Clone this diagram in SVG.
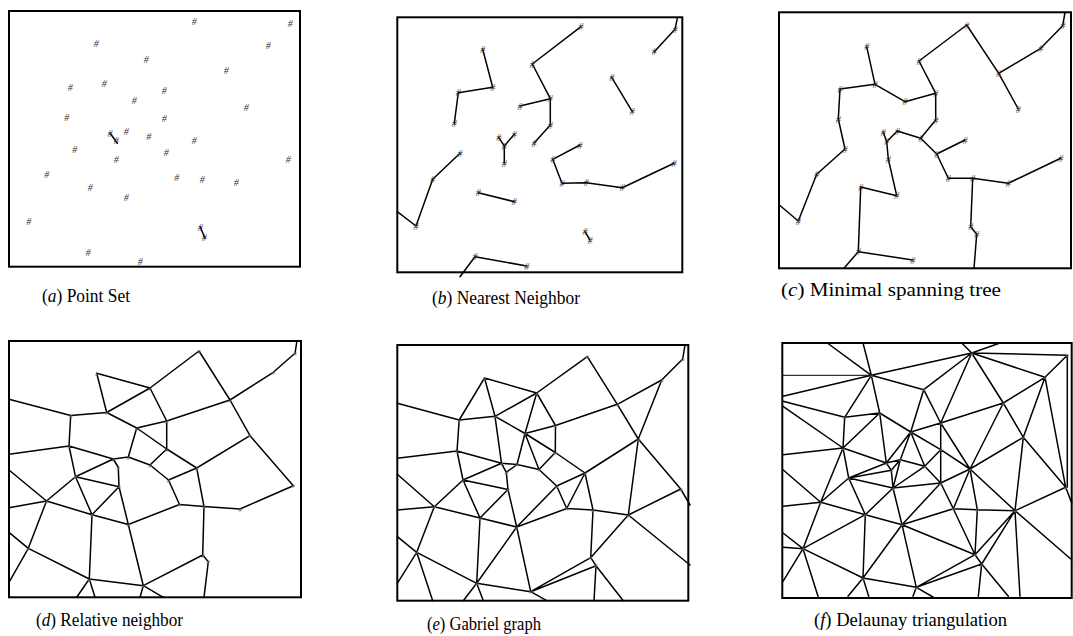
<svg xmlns="http://www.w3.org/2000/svg" width="1073" height="636" viewBox="0 0 1073 636">
<style>
.fr{fill:none;stroke:#000;stroke-width:2}
.ed{fill:none;stroke:#000;stroke-width:1.5;stroke-linecap:round;stroke-linejoin:round}
.thin{fill:none;stroke:#000;stroke-width:1}
.pt{font-family:"Liberation Serif",serif;font-style:italic;font-size:10px;fill:#333;text-anchor:middle}
.pt2{font-family:"Liberation Serif",serif;font-style:italic;font-size:7px;fill:#777;text-anchor:middle}
.lb{font-family:"Liberation Serif","Times New Roman",serif;font-size:19px;fill:#000}
.lb tspan{font-style:italic}
</style>
<rect width="1073" height="636" fill="#fff"/>

<!-- (a) Point set -->
<g id="panel-a">
<rect class="fr" x="9" y="11" width="291" height="255.7"/>
<g id="a-edges">
<path class="ed" d="M110,133L117.3,143.3M200.3,227L205,238.3"/>
</g>
<g id="a-nodes" class="pt">
<text id="a1" x="194.3" y="24.5">#</text><text id="a2" x="290.3" y="26.8">#</text><text id="a3" x="96.3" y="46.8">#</text>
<text id="a4" x="268.3" y="48.5">#</text><text id="a5" x="146.3" y="62.8">#</text><text id="a6" x="226.3" y="74.2">#</text>
<text id="a7" x="70.3" y="90.8">#</text><text id="a8" x="104.3" y="86.8">#</text><text id="a9" x="164.3" y="94.2">#</text>
<text id="a10" x="134.3" y="104.2">#</text><text id="a11" x="246.3" y="110.5">#</text><text id="a12" x="66.7" y="120.8">#</text>
<text id="a13" x="164.3" y="122.2">#</text><text id="a14" x="110" y="136.5">#</text><text id="a15" x="116.3" y="144.2">#</text>
<text id="a16" x="126.3" y="134.5">#</text><text id="a17" x="148.7" y="140.2">#</text><text id="a18" x="194.3" y="144.2">#</text>
<text id="a19" x="74.7" y="152.5">#</text><text id="a20" x="166.3" y="156.2">#</text><text id="a21" x="116.3" y="162.8">#</text>
<text id="a22" x="288.3" y="162.5">#</text><text id="a23" x="46.7" y="178.2">#</text><text id="a24" x="176.7" y="180.5">#</text>
<text id="a25" x="202.3" y="182.5">#</text><text id="a26" x="236.3" y="186.2">#</text><text id="a27" x="90.3" y="190.5">#</text>
<text id="a28" x="126.3" y="200.5">#</text><text id="a29" x="28.7" y="224.5">#</text><text id="a30" x="200.3" y="230.5">#</text>
<text id="a31" x="204.3" y="240.8">#</text><text id="a32" x="88.3" y="256.2">#</text><text id="a33" x="140.3" y="264.5">#</text>
</g>
<text class="lb" x="42" y="302" textLength="88" lengthAdjust="spacingAndGlyphs">(<tspan>a</tspan>) Point Set</text>
</g>

<!-- (b) Nearest neighbor -->
<g id="panel-b">
<rect class="fr" x="397.3" y="17.3" width="285" height="255"/>
<g id="b-edges">
<path class="ed" d="M677.3,18.3L675,29.3L654.3,51.7
M581,26.7L532.3,64L550.3,98.7L550.3,125L534,143.3
M520,106L550.3,98.7
M611.7,77.3L632.3,111.7
M482.7,49.3L492.7,87.3L458.3,92.7L454.3,123.3
M498.7,137.3L504.3,146L514.3,134.3
M504.3,146L504.3,163.3
M460,153.3L432.7,179.3L416,226L397.3,211.7
M580,145L552.7,159.3L562,183.3L586.3,182.7L622.3,187.7L674,163.3
M478.3,192.7L514.3,201.7
M585,231.7L590,240
M526.7,266L475,256.7L460,276.7"/>
</g>
<g id="b-nodes" class="pt">
<text id="b1" x="581" y="30.2">#</text><text id="b2" x="675" y="32.8">#</text><text id="b3" x="482.7" y="52.8">#</text>
<text id="b4" x="654.3" y="55.2">#</text><text id="b5" x="532.3" y="67.5">#</text><text id="b6" x="611.7" y="80.8">#</text>
<text id="b7" x="492.7" y="90.8">#</text><text id="b8" x="458.3" y="96.2">#</text><text id="b9" x="550.3" y="102.2">#</text>
<text id="b10" x="520" y="109.5">#</text><text id="b11" x="632.3" y="115.2">#</text><text id="b12" x="454.3" y="126.8">#</text>
<text id="b13" x="550.3" y="128.5">#</text><text id="b14" x="498.7" y="140.8">#</text><text id="b15" x="504.3" y="149.5">#</text>
<text id="b16" x="514.3" y="137.8">#</text><text id="b17" x="534" y="146.8">#</text><text id="b18" x="580" y="148.5">#</text>
<text id="b19" x="460" y="156.8">#</text><text id="b20" x="504.3" y="166.8">#</text><text id="b21" x="552.7" y="162.8">#</text>
<text id="b22" x="674" y="166.8">#</text><text id="b23" x="432.7" y="182.8">#</text><text id="b24" x="562" y="186.8">#</text>
<text id="b25" x="586.3" y="186.2">#</text><text id="b26" x="622.3" y="191.2">#</text><text id="b27" x="478.3" y="196.2">#</text>
<text id="b28" x="514.3" y="205.2">#</text><text id="b29" x="416" y="229.5">#</text><text id="b30" x="585" y="235.2">#</text>
<text id="b31" x="590" y="243.5">#</text><text id="b32" x="475" y="260.2">#</text><text id="b33" x="526.7" y="269.5">#</text>
</g>
<text class="lb" x="432" y="304" textLength="148" lengthAdjust="spacingAndGlyphs">(<tspan>b</tspan>) Nearest Neighbor</text>
</g>

<!-- (c) Minimal spanning tree -->
<g id="panel-c">
<rect class="fr" x="779" y="12.3" width="292" height="256"/>
<g id="c-edges">
<path class="ed" d="M1065,12.5L1062.7,25.7L1040.7,48.3L998.7,73.3L1018.3,109
M966.7,25L998.7,73.3
M966.7,25L919,61L935.7,93.3L905,101.7L875,84.3L866.7,46.7
M875,84.3L840,89L838.3,119L845,149L816.7,174.3L798.3,221L779.3,205
M935.7,93.3L935.7,120L920.7,138.3L897.3,131L886.7,141.7L883.3,132.3
M886.7,141.7L888.3,159L896.7,195.7L860.7,187L858.3,251.7L912.7,260
M858.3,251.7L844,268.3
M920.7,138.3L936.7,154L965,140
M936.7,154L948.3,178.3L972.7,178.3L1008.3,183.3L1060.7,158.3
M972.7,178.3L970.7,226.7L976.7,234.3L974,268.3"/>
</g>
<g id="c-nodes" class="pt">
<text id="c1" x="966.7" y="28.5">#</text><text id="c2" x="1062.7" y="29.2">#</text><text id="c3" x="866.7" y="50.2">#</text>
<text id="c4" x="1040.7" y="51.8">#</text><text id="c5" x="919" y="64.5">#</text><text id="c6" x="998.7" y="76.8">#</text>
<text id="c7" x="875" y="87.8">#</text><text id="c8" x="840" y="92.5">#</text><text id="c9" x="935.7" y="96.8">#</text>
<text id="c10" x="905" y="105.2">#</text><text id="c11" x="1018.3" y="112.5">#</text><text id="c12" x="838.3" y="122.5">#</text>
<text id="c13" x="935.7" y="123.5">#</text><text id="c14" x="883.3" y="135.8">#</text><text id="c15" x="886.7" y="145.2">#</text>
<text id="c16" x="897.3" y="134.5">#</text><text id="c17" x="920.7" y="141.8">#</text><text id="c18" x="965" y="143.5">#</text>
<text id="c19" x="845" y="152.5">#</text><text id="c20" x="888.3" y="162.5">#</text><text id="c21" x="936.7" y="157.5">#</text>
<text id="c22" x="1060.7" y="161.8">#</text><text id="c23" x="816.7" y="177.8">#</text><text id="c24" x="948.3" y="181.8">#</text>
<text id="c25" x="972.7" y="181.8">#</text><text id="c26" x="1008.3" y="186.8">#</text><text id="c27" x="860.7" y="190.5">#</text>
<text id="c28" x="896.7" y="199.2">#</text><text id="c29" x="798.3" y="224.5">#</text><text id="c30" x="970.7" y="230.2">#</text>
<text id="c31" x="976.7" y="237.8">#</text><text id="c32" x="858.3" y="255.2">#</text><text id="c33" x="912.7" y="263.5">#</text>
</g>
<text class="lb" x="781" y="296" textLength="220" lengthAdjust="spacingAndGlyphs">(<tspan>c</tspan>) Minimal spanning tree</text>
</g>

<!-- (d) Relative neighbor -->
<g id="panel-d">
<rect class="fr" x="9" y="341" width="292" height="256.3"/>
<g id="d-edges">
<path class="ed" d="M9,399.3L70.7,415.5L106.7,412.5L96.7,373.3L150,388L106.7,412.5
M150,388L199,351L230,400L273.3,372.3L295,353.3L296.7,342.3
M150,388L166.7,421L166.7,449
M106.7,412.5L136.7,428L166.7,449L150,465L168.5,480L179.5,504.5L204,506.5L240,509L293.3,485.7L250,435.7L230,400
M136.7,428L166.7,421L230,400
M166.7,449L196.7,468L250,435.7
M196.7,468L168.5,480
M196.7,468L204,506.5L202.7,555L208.3,561.7L204,597.3
M136.7,428L128.3,457L150,465
M9,454.3L69,446L70.7,415.5
M69,446L113.3,459L128.3,457
M113.3,459L118.3,467.5L119,486.7
M69,446L75.5,476.7L113.3,459
M75.5,476.7L119,486.7L92,514.7L75.5,476.7L46.5,501L9,470
M46.5,501L9,507.7
M46.5,501L92,514.7L128.3,524.5L119,486.7
M46.5,501L28.3,548.3L9,532.3
M28.3,548.3L9,582.3
M28.3,548.3L89.3,579L143.3,585.7L202.7,555
M128.3,524.5L179.5,504.5
M92,514.7L89.3,579L76.7,597.3
M89.3,579L95,597.3
M128.3,524.5L143.3,585.7L140,597.3
M143.3,585.7L163.3,597.3"/>
</g>
<g id="d-nodes" class="pt2">
<text id="d1" x="199" y="353.5">#</text><text id="d2" x="295" y="355.8">#</text><text id="d3" x="273.3" y="374.8">#</text>
<text id="d4" x="96.7" y="375.8">#</text><text id="d5" x="150" y="390.5">#</text><text id="d6" x="230" y="402.5">#</text>
<text id="d7" x="106.7" y="415">#</text><text id="d8" x="70.7" y="418">#</text><text id="d9" x="166.7" y="423.5">#</text>
<text id="d10" x="136.7" y="430.5">#</text><text id="d11" x="250" y="438.2">#</text><text id="d12" x="69" y="448.5">#</text>
<text id="d13" x="166.7" y="451.5">#</text><text id="d14" x="113.3" y="461.5">#</text><text id="d15" x="118.3" y="470">#</text>
<text id="d16" x="128.3" y="459.5">#</text><text id="d17" x="150" y="467.5">#</text><text id="d18" x="196.7" y="470.5">#</text>
<text id="d19" x="75.5" y="479.2">#</text><text id="d20" x="119" y="489.2">#</text><text id="d21" x="168.5" y="482.5">#</text>
<text id="d22" x="293.3" y="488.2">#</text><text id="d23" x="46.5" y="503.5">#</text><text id="d24" x="179.5" y="507">#</text>
<text id="d25" x="204" y="509">#</text><text id="d26" x="240" y="511.5">#</text><text id="d27" x="92" y="517.2">#</text>
<text id="d28" x="128.3" y="527">#</text><text id="d29" x="28.3" y="550.8">#</text><text id="d30" x="202.7" y="557.5">#</text>
<text id="d31" x="208.3" y="564.2">#</text><text id="d32" x="89.3" y="581.5">#</text><text id="d33" x="143.3" y="588.2">#</text>
</g>
<text class="lb" x="36" y="626" textLength="147" lengthAdjust="spacingAndGlyphs">(<tspan>d</tspan>) Relative neighbor</text>
</g>

<!-- (e) Gabriel graph -->
<g id="panel-e">
<rect class="fr" x="397.3" y="345" width="291" height="255.7"/>
<g id="e-edges">
<path class="ed" d="M397.3,403.3L459.2,420L484.5,378L495,416.3L459.2,420
M484.5,378L536.7,393L587.3,356.7L617.3,404.3L661.7,380L682.7,359L685,345
M495,416.3L536.7,393L525,433.5L495,416.3L501.5,463.3
M536.7,393L555.5,425.5L525,433.5
M555.5,425.5L617.3,404.3L638.3,439L661.7,380
M638.3,439L680.7,489L690,505
M555.5,425.5L555.3,452.5L539,469.5L525,433.5L517,464.5
M525,433.5L555.3,452.5L585,473L638.3,439
M459.2,420L457,451L397.3,458.3
M457,451L501.5,463.3L517,464.5L539,469.5L556.7,486L585,473
M457,451L463,480L501.5,463.3L506.3,472.3L517,464.5
M506.3,472.3L508,489.5L463,480
M585,473L566.7,508.5L556.7,486
M585,473L593,510L566.7,508.5
M593,510L628.3,515L680.7,489
M628.3,515L638.3,439
M628.3,515L690,565
M628.3,515L590.7,557.7L593,510
M590.7,557.7L596,565.7L594,600.7
M596,565.7L623.3,600.7
M590.7,557.7L530.7,591.7L596,565.7
M556.7,486L516.7,527L508,489.5L480,518L463,480L434.3,506.7L480,518L516.7,527L566.7,508.5
M516.7,527L476.7,583.3L480,518
M516.7,527L530.7,591.7L476.7,583.3L416.7,552.3L434.3,506.7
M434.3,506.7L397.3,510
M434.3,506.7L397.3,474.3
M416.7,552.3L397.3,536.7
M416.7,552.3L397.3,583.3
M416.7,552.3L432.7,600.7
M476.7,583.3L463.3,600.7
M476.7,583.3L483.3,600.7
M530.7,591.7L546.7,600.7"/>
</g>
<g id="e-nodes" class="pt2">
<text id="e1" x="587.3" y="359.2">#</text><text id="e2" x="682.7" y="361.5">#</text><text id="e3" x="484.5" y="380.5">#</text>
<text id="e4" x="661.7" y="382.5">#</text><text id="e5" x="536.7" y="395.5">#</text><text id="e6" x="617.3" y="406.8">#</text>
<text id="e7" x="495" y="418.8">#</text><text id="e8" x="459.2" y="422.5">#</text><text id="e9" x="555.5" y="428">#</text>
<text id="e10" x="525" y="436">#</text><text id="e11" x="638.3" y="441.5">#</text><text id="e12" x="457" y="453.5">#</text>
<text id="e13" x="555.3" y="455">#</text><text id="e14" x="501.5" y="465.8">#</text><text id="e15" x="506.3" y="474.8">#</text>
<text id="e16" x="517" y="467">#</text><text id="e17" x="539" y="472">#</text><text id="e18" x="585" y="475.5">#</text>
<text id="e19" x="463" y="482.5">#</text><text id="e20" x="508" y="492">#</text><text id="e21" x="556.7" y="488.5">#</text>
<text id="e22" x="680.7" y="491.5">#</text><text id="e23" x="434.3" y="509.2">#</text><text id="e24" x="566.7" y="511">#</text>
<text id="e25" x="593" y="512.5">#</text><text id="e26" x="628.3" y="517.5">#</text><text id="e27" x="480" y="520.5">#</text>
<text id="e28" x="516.7" y="529.5">#</text><text id="e29" x="416.7" y="554.8">#</text><text id="e30" x="590.7" y="560.2">#</text>
<text id="e31" x="596" y="568.2">#</text><text id="e32" x="476.7" y="585.8">#</text><text id="e33" x="530.7" y="594.2">#</text>
</g>
<text class="lb" x="427" y="630" textLength="114" lengthAdjust="spacingAndGlyphs">(<tspan>e</tspan>) Gabriel graph</text>
</g>

<!-- (f) Delaunay triangulation -->
<g id="panel-f">
<rect class="fr" x="782.3" y="343" width="289.4" height="255"/>
<g id="f-edges">
<path class="thin" d="M782.3,375.3L871.3,375.3"/>
<path class="ed" d="M827.3,343L871.3,375.3L863,343
M961.7,343L971.7,353L1000,343
M783,396.3L871.3,375.3L971.7,353L1067.3,355.3L1067.3,487.3
M871.3,375.3L844.7,417.3L879.7,413L871.3,375.3L923.7,389.7L971.7,353
M923.7,389.7L910.7,432L879.7,413
M923.7,389.7L940.7,423L971.7,353L1003.3,403L1045,377.3L971.7,353
M1067.3,355.3L1045,377.3L1065.7,487.3
M783,401.3L844.7,417.3L843,448L879.7,413L886.3,463L910.7,432L940.7,423
M783,406.3L843,448L783,454.7
M843,448L886.3,463L900.3,459.7L924.7,466.3L910.7,432L900.3,459.7
M886.3,463L891.3,470.3L900.3,459.7
M843,448L848.7,478L886.3,463
M848.7,478L891.3,470.3L893,488L848.7,478
M900.3,459.7L893,488L924.7,466.3
M843,448L820.7,502.3L848.7,478L865.3,514.7L893,488L902,524.7L865.3,514.7L820.7,502.3
M910.7,432L940.7,449.7L924.7,466.3L940.7,483L893,488
M940.7,423L940.7,449.7L940.7,483
M940.7,423L1003.3,403L1023.3,437.3L1045,377.3
M1003.3,403L970,469L940.7,423
M940.7,449.7L970,469L1023.3,437.3L1065.7,487.3
M1023.3,437.3L1015,510.7L1065.7,487.3L1071.7,503
M970,469L940.7,483L953.3,508.7L970,469L977.3,509.7L953.3,508.7
M970,469L1015,510.7L977.3,509.7L975,554.7L953.3,508.7
M940.7,483L902,524.7L953.3,508.7
M1015,510.7L975,554.7L981.7,564L1015,510.7
M1015,510.7L1020,596.3
M1015,510.7L1071.7,559.7
M981.7,564L978.3,596.3
M981.7,564L1008.3,596.3
M902,524.7L975,554.7L916.3,587.3L981.7,564
M916.3,587.3L902,524.7L863,578L865.3,514.7L803,548.7L820.7,502.3
M803,548.7L863,578L916.3,587.3
M783,469.7L820.7,502.3L783,506.3
M803,548.7L783,533
M803,548.7L783,547.3
M803,548.7L783,581.3
M803,548.7L818,596.3
M863,578L848,596.3
M863,578L868.7,596.3
M916.3,587.3L913,596.3
M916.3,587.3L933,597"/>
</g>
<g id="f-nodes" class="pt2">
<text id="f1" x="971.7" y="355.5">#</text><text id="f2" x="1067.3" y="357.8">#</text><text id="f3" x="871.3" y="377.8">#</text>
<text id="f4" x="1045" y="379.8">#</text><text id="f5" x="923.7" y="392.2">#</text><text id="f6" x="1003.3" y="405.5">#</text>
<text id="f7" x="879.7" y="415.5">#</text><text id="f8" x="844.7" y="419.8">#</text><text id="f9" x="940.7" y="425.5">#</text>
<text id="f10" x="910.7" y="434.5">#</text><text id="f11" x="1023.3" y="439.8">#</text><text id="f12" x="843" y="450.5">#</text>
<text id="f13" x="940.7" y="452.2">#</text><text id="f14" x="886.3" y="465.5">#</text><text id="f15" x="891.3" y="472.8">#</text>
<text id="f16" x="900.3" y="462.2">#</text><text id="f17" x="924.7" y="468.8">#</text><text id="f18" x="970" y="471.5">#</text>
<text id="f19" x="848.7" y="480.5">#</text><text id="f20" x="893" y="490.5">#</text><text id="f21" x="940.7" y="485.5">#</text>
<text id="f22" x="1065.7" y="489.8">#</text><text id="f23" x="820.7" y="504.8">#</text><text id="f24" x="953.3" y="511.2">#</text>
<text id="f25" x="977.3" y="512.2">#</text><text id="f26" x="1015" y="513.2">#</text><text id="f27" x="865.3" y="517.2">#</text>
<text id="f28" x="902" y="527.2">#</text><text id="f29" x="803" y="551.2">#</text><text id="f30" x="975" y="557.2">#</text>
<text id="f31" x="981.7" y="566.5">#</text><text id="f32" x="863" y="580.5">#</text><text id="f33" x="916.3" y="589.8">#</text>
</g>
<text class="lb" x="814" y="626" textLength="193" lengthAdjust="spacingAndGlyphs">(<tspan>f</tspan>) Delaunay triangulation</text>
</g>
</svg>
